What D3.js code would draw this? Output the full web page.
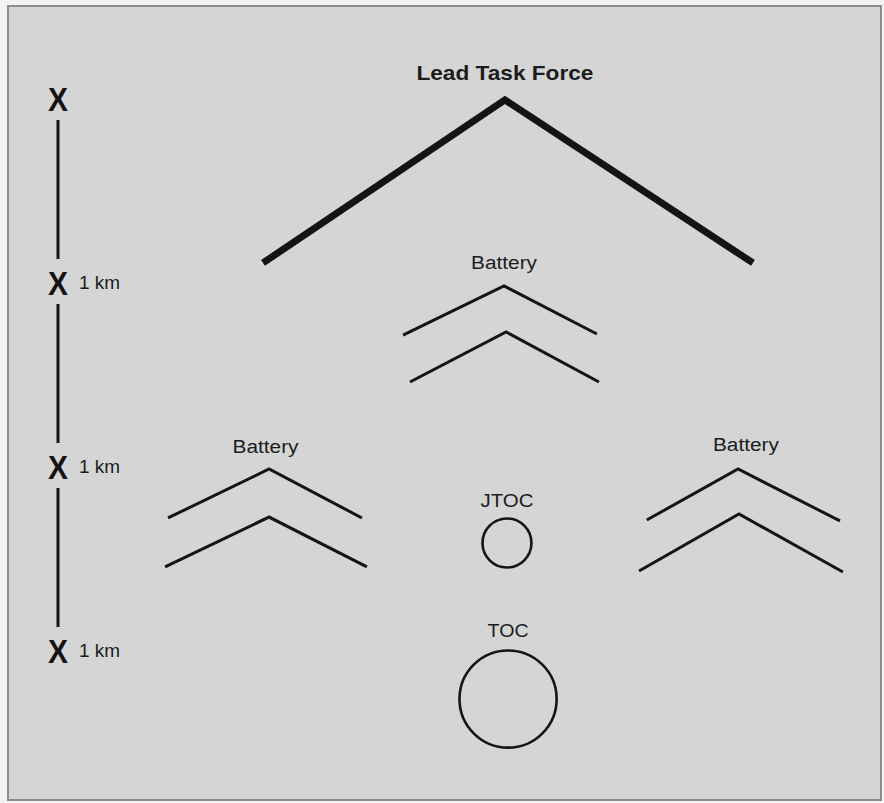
<!DOCTYPE html>
<html>
<head>
<meta charset="utf-8">
<script src="https://cdn.jsdelivr.net/npm/d3@7"></script>
<style>
  html, body { margin: 0; padding: 0; background: #f3f3f3; }
  svg { display: block; }
</style>
</head>
<body>
<div id="chart"></div>
<script>
// ---------- DATA (diagram units: kilometres, origin at the top scale mark) ----------
const scaleMarksKm = [0, 1, 2, 3];
const scaleLabels = ["", "1 km", "1 km", "1 km"];

const unitNames = ["Lead Task Force", "Battery", "Battery", "Battery"];
// each chevron: [leftX, leftY, apexX, apexY, rightX, rightY] in km
const leadChevron = [[1.114, 0.891, 2.429, 0.005, 3.777, 0.891]];
const topBatteryChevrons = [
  [1.875, 1.283, 2.424, 1.016, 2.929, 1.277],
  [1.913, 1.538, 2.435, 1.266, 2.940, 1.538]
];
const leftBatteryChevrons = [
  [0.598, 2.277, 1.147, 2.011, 1.652, 2.277],
  [0.582, 2.543, 1.147, 2.272, 1.679, 2.543]
];
const rightBatteryChevrons = [
  [3.200, 2.288, 3.696, 2.011, 4.250, 2.293],
  [3.158, 2.565, 3.701, 2.255, 4.266, 2.571]
];
// label anchor points [x, y] in km
const unitLabelPos = [[2.429, -0.103], [2.424, 0.924], [1.128, 1.924], [3.739, 1.913]];

const centerNames = ["JTOC", "TOC"];
const centerPos = [[2.440, 2.413], [2.446, 3.261]];
const centerRadiusKm = [0.133, 0.264];
const centerLabelPos = [[2.440, 2.217], [2.446, 2.924]];

// ---------- LAYOUT ----------
const W = 884, H = 803;
const kmPx = 184;
const x = d3.scaleLinear().domain([0, 1]).range([58, 58 + kmPx]);
const y = d3.scaleLinear().domain([0, 1]).range([99, 99 + kmPx]);
const r = d3.scaleLinear().domain([0, 1]).range([0, kmPx]);

const ink = "#141414";
const textInk = "#1c1c1c";
const font = "'Liberation Sans', Arial, Helvetica, sans-serif";

const svg = d3.select("#chart").append("svg")
  .attr("width", W).attr("height", H)
  .attr("viewBox", `0 0 ${W} ${H}`);

// page outside the frame
svg.append("rect").attr("x", 0).attr("y", 0).attr("width", W).attr("height", H).attr("fill", "#f3f3f3");
// framed grey panel
svg.append("rect").attr("x", 8).attr("y", 6).attr("width", 873).attr("height", 794)
  .attr("fill", "#d5d5d5").attr("stroke", "#8c8c8c").attr("stroke-width", 2);

// ---------- SCALE BAR ----------
const bar = svg.append("g");
const segs = d3.pairs(scaleMarksKm);
bar.selectAll("line.seg").data(segs).join("line").attr("class", "seg")
  .attr("x1", x(0)).attr("x2", x(0))
  .attr("y1", d => y(d[0]) + 21).attr("y2", d => y(d[1]) - 24)
  .attr("stroke", ink).attr("stroke-width", 3);
bar.selectAll("text.mark").data(scaleMarksKm).join("text").attr("class", "mark")
  .attr("x", x(0)).attr("y", d => y(d) + 12)
  .attr("text-anchor", "middle").attr("font-family", font).attr("font-weight", "bold")
  .attr("font-size", 33).attr("textLength", 20).attr("lengthAdjust", "spacingAndGlyphs")
  .attr("fill", ink).text("X");
bar.selectAll("text.km").data(scaleMarksKm.filter((d, i) => scaleLabels[i]))
  .join("text").attr("class", "km")
  .attr("x", x(0) + 21).attr("y", d => y(d) + 6)
  .attr("font-family", font).attr("font-size", 18)
  .attr("textLength", 41).attr("lengthAdjust", "spacingAndGlyphs")
  .attr("fill", textInk).text(d => scaleLabels[scaleMarksKm.indexOf(d)]);

// ---------- CHEVRONS ----------
const line = d3.line().x(p => x(p[0])).y(p => y(p[1]));
function chevronPts(c) { return [[c[0], c[1]], [c[2], c[3]], [c[4], c[5]]]; }
function drawChevrons(data, width) {
  svg.append("g").selectAll("path").data(data).join("path")
    .attr("d", c => line(chevronPts(c)))
    .attr("fill", "none").attr("stroke", ink)
    .attr("stroke-width", width).attr("stroke-linejoin", "miter").attr("stroke-linecap", "butt");
}
drawChevrons(leadChevron, 7);
drawChevrons(topBatteryChevrons, 3);
drawChevrons(leftBatteryChevrons, 3);
drawChevrons(rightBatteryChevrons, 3);

// unit labels
const labelWidths = [177, 66, 66, 66];
svg.append("g").selectAll("text").data(unitNames).join("text")
  .attr("x", (d, i) => x(unitLabelPos[i][0]))
  .attr("y", (d, i) => y(unitLabelPos[i][1]))
  .attr("text-anchor", "middle").attr("font-family", font)
  .attr("font-weight", (d, i) => i === 0 ? "bold" : "normal")
  .attr("font-size", (d, i) => i === 0 ? 21 : 18)
  .attr("textLength", (d, i) => labelWidths[i]).attr("lengthAdjust", "spacingAndGlyphs")
  .attr("fill", textInk).text(d => d);

// ---------- OPERATIONS CENTRES ----------
svg.append("g").selectAll("circle").data(centerNames).join("circle")
  .attr("cx", (d, i) => x(centerPos[i][0]))
  .attr("cy", (d, i) => y(centerPos[i][1]))
  .attr("r", (d, i) => r(centerRadiusKm[i]))
  .attr("fill", "none").attr("stroke", ink).attr("stroke-width", 2.6);
const centerLabelWidths = [53, 41];
svg.append("g").selectAll("text").data(centerNames).join("text")
  .attr("x", (d, i) => x(centerLabelPos[i][0]))
  .attr("y", (d, i) => y(centerLabelPos[i][1]))
  .attr("text-anchor", "middle").attr("font-family", font).attr("font-size", 19)
  .attr("textLength", (d, i) => centerLabelWidths[i]).attr("lengthAdjust", "spacingAndGlyphs")
  .attr("fill", textInk).text(d => d);
</script>
</body>
</html>
